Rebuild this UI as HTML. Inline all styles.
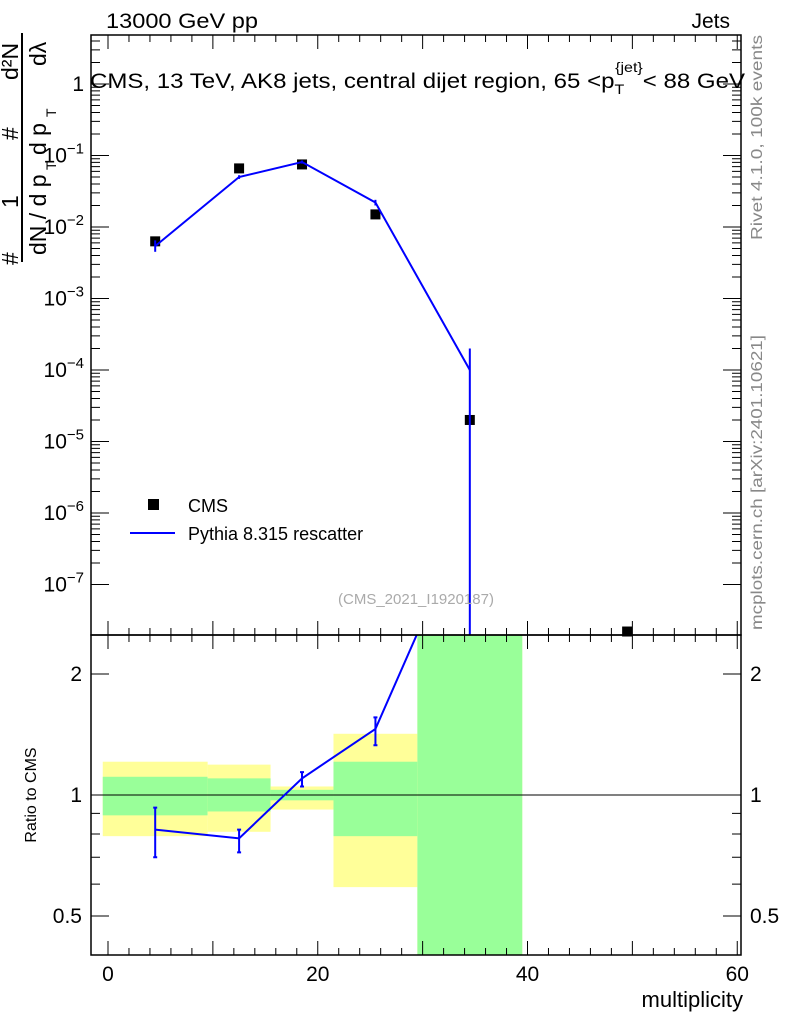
<!DOCTYPE html>
<html><head><meta charset="utf-8"><style>
body{margin:0;background:#fff;}
svg text{font-family:"Liberation Sans",sans-serif;}
</style></head><body>
<svg id="c" width="786" height="1024" xmlns="http://www.w3.org/2000/svg">
<g id="bands"></g><g id="marks"></g><g id="axes"></g>
<text x="106" y="28" font-size="21" textLength="152" lengthAdjust="spacingAndGlyphs">13000 GeV pp</text>
<text x="730" y="28" font-size="21" text-anchor="end">Jets</text>
<text x="90" y="88" font-size="21" textLength="655" lengthAdjust="spacingAndGlyphs">CMS, 13 TeV, AK8 jets, central dijet region, 65 &lt;p<tspan font-size="14" dy="6">T</tspan><tspan font-size="14" dx="-8" dy="-22">{jet}</tspan><tspan dy="16">&lt; 88 GeV</tspan></text>
<text x="416" y="604" font-size="15" fill="#aaa" text-anchor="middle">(CMS_2021_I1920187)</text>
<text transform="translate(762,240) rotate(-90)" font-size="16" fill="#888" textLength="205" lengthAdjust="spacingAndGlyphs">Rivet 4.1.0,  100k events</text>
<text transform="translate(762,630) rotate(-90)" font-size="16" fill="#888" textLength="295" lengthAdjust="spacingAndGlyphs">mcplots.cern.ch [arXiv:2401.10621]</text>
<g font-size="23">
<line x1="22" y1="262" x2="22" y2="33" stroke="#000" stroke-width="2"/>
<g transform="rotate(-90)">
<text x="-265" y="18">#</text>
<text x="-208" y="18">1</text>
<text x="-140" y="18">#</text>
<text x="-80" y="18">d²N</text>
<text x="-255" y="46">dN / d p</text>
<text x="-155" y="46">d p</text>
<text x="-66" y="46">dλ</text>
</g>
<g transform="rotate(-90)" font-size="14">
<text x="-170" y="56">T</text>
<text x="-117" y="56">T</text>
</g>
</g>
<text transform="translate(36,795) rotate(-90)" font-size="16" text-anchor="middle">Ratio to CMS</text>
<text x="743" y="1007" font-size="22" text-anchor="end">multiplicity</text>
<g>
<rect x="148" y="499" width="11" height="11" fill="#000"/>
<text x="188" y="512" font-size="18">CMS</text>
<line x1="130" y1="533" x2="175" y2="533" stroke="#00f" stroke-width="2"/>
<text x="188" y="540" font-size="18">Pythia 8.315 rescatter</text>
</g>
</svg>
<script>
const binLo=[-0.5,9.5,15.5,21.5,29.5];
const binHi=[9.5,15.5,21.5,29.5,39.5];
const binX=[4.5,12.5,18.5,25.5,34.5];
const cmsVals=[6.3e-3,0.066,0.075,0.015,2e-5];
const cmsExtraX=[49.5];
const cmsExtraV=[2.2e-8];
const mcVals=[5.4e-3,0.05,0.081,0.022,1e-4];
const mcErrUp=[6.5e-3,0.053,0.085,0.024,2e-4];
const mcErrDn=[4.5e-3,0.047,0.077,0.020,1e-12];
const ratioVals=[0.82,0.78,1.10,1.46,5];
const ratioUp=[0.93,0.82,1.14,1.56,5];
const ratioDn=[0.70,0.72,1.05,1.33,5];
const greenUp=[1.11,1.10,1.03,1.21,10];
const greenDn=[0.89,0.91,0.97,0.79,0.1];
const yellowUp=[1.21,1.19,1.05,1.42,10];
const yellowDn=[0.79,0.81,0.92,0.59,0.1];
const xTicks=[0,20,40,60];
const yTicksExp=[0,-1,-2,-3,-4,-5,-6,-7];
const rTicks=[0.5,1,2];

const L=91,R=741,T=35,M=635,B=955;
const X=v=>108+v*10.4875;
const Y=v=>84-(Math.log10(v))*71.5;
const YR=v=>795-Math.log10(v)*402;
const cl=(y,a,b)=>Math.max(a,Math.min(b,y));
const NS="http://www.w3.org/2000/svg";
function mk(p,t,at){const e=document.createElementNS(NS,t);for(const k in at)e.setAttribute(k,at[k]);document.getElementById(p).appendChild(e);return e;}

let e;
for(let i=0;i<binLo.length;i++){
 const y1=cl(YR(yellowUp[i]),M,B),y2=cl(YR(yellowDn[i]),M,B);
 e=mk('bands','rect',{x:X(binLo[i]),y:y1,width:X(binHi[i])-X(binLo[i]),height:y2-y1,fill:'#ffff99'});
 
 
 const g1=cl(YR(greenUp[i]),M,B),g2=cl(YR(greenDn[i]),M,B);
 e=mk('bands','rect',{x:X(binLo[i]),y:g1,width:X(binHi[i])-X(binLo[i]),height:g2-g1,fill:'#99ff99'});
 
 
}
e=mk('bands','line',{x1:L,x2:R,y1:YR(1),y2:YR(1),stroke:'#000','stroke-width':1});



const allX=binX.concat(cmsExtraX),allV=cmsVals.concat(cmsExtraV);
for(let i=0;i<allX.length;i++){
 const y=cl(Y(allV[i]),T,M);
 e=mk('marks','rect',{x:X(allX[i])-5,y:y-5,width:10,height:10,fill:'#000'});
 
 
}
e=mk('marks','polyline',{points:binX.map((x,i)=>X(x)+','+cl(Y(mcVals[i]),T,M)).join(' '),fill:'none',stroke:'#00f','stroke-width':2});


for(let i=0;i<binX.length;i++){
 const x=X(binX[i]);
 e=mk('marks','line',{x1:x,x2:x,y1:cl(Y(mcErrUp[i]),T,M),y2:cl(Y(mcErrDn[i]),T,M),stroke:'#00f','stroke-width':2});
 
 
}
const cp=mk('marks','clipPath',{id:'rc'});
const cr=document.createElementNS(NS,'rect');cr.setAttribute('x',L);cr.setAttribute('y',M);cr.setAttribute('width',R-L);cr.setAttribute('height',B-M);cp.appendChild(cr);
e=mk('marks','polyline',{points:binX.map((x,i)=>X(x)+','+YR(ratioVals[i])).join(' '),fill:'none',stroke:'#00f','stroke-width':2,'clip-path':'url(#rc)'});


for(let i=0;i<binX.length;i++){
 if(ratioVals[i]>2.5)continue;
 const x=X(binX[i]);
 e=mk('marks','path',{d:`M${x},${YR(ratioUp[i])}V${YR(ratioDn[i])}M${x-2},${YR(ratioUp[i])}h4M${x-2},${YR(ratioDn[i])}h4`,stroke:'#00f','stroke-width':2,fill:'none'});
 
 
}
for(const [y1,y2] of [[T,M],[M,B]]){
 e=mk('axes','rect',{x:L,y:y1,width:R-L,height:y2-y1,fill:'none',stroke:'#000','stroke-width':1.5});
 
 
}
let d='';
for(let v=0;v<=60;v+=2){const x=X(v);const big=v%10==0;const l=big?14:7;d+=`M${x},${B}v${-l}M${x},${M}v${-l}M${x},${M}v${l}M${x},${T}v${l}`;}
for(const ex of yTicksExp){for(let m=1;m<10;m++){const y=Y(m*Math.pow(10,ex));if(y<T||y>M)continue;const l=m==1?18:9;d+=`M${L},${y}h${l}M${R},${y}h${-l}`;}}
for(let m=2;m<10;m++){const y=Y(m*10);if(y>T)d+=`M${L},${y}h9M${R},${y}h-9`;}
for(const v of [0.4,0.5,0.6,0.7,0.8,0.9,1,2]){const y=YR(v);const l=rTicks.includes(v)?18:9;d+=`M${L},${y}h${l}M${R},${y}h${-l}`;}
e=mk('axes','path',{d:d,stroke:'#000','stroke-width':1,fill:'none'});


for(const v of xTicks){e=mk('axes','text',{x:X(v),y:981,'font-size':21,'text-anchor':'middle'});e.textContent=v;

}
for(const ex of yTicksExp){const t=mk('axes','text',{x:84,y:Y(Math.pow(10,ex))+7,'font-size':21,'text-anchor':'end'});
 if(ex==0)t.textContent='1';else{t.textContent='10';const s=document.createElementNS(NS,'tspan');s.setAttribute('dy','-9');s.setAttribute('font-size','15');s.textContent='\u2212'+(-ex);t.appendChild(s);}
 
 }
for(const v of rTicks){for(const [x,a] of [[82,'end'],[750,'start']]){e=mk('axes','text',{x:x,y:YR(v)+7,'font-size':21,'text-anchor':a});e.textContent=v;

}}
</script>
</body></html>
